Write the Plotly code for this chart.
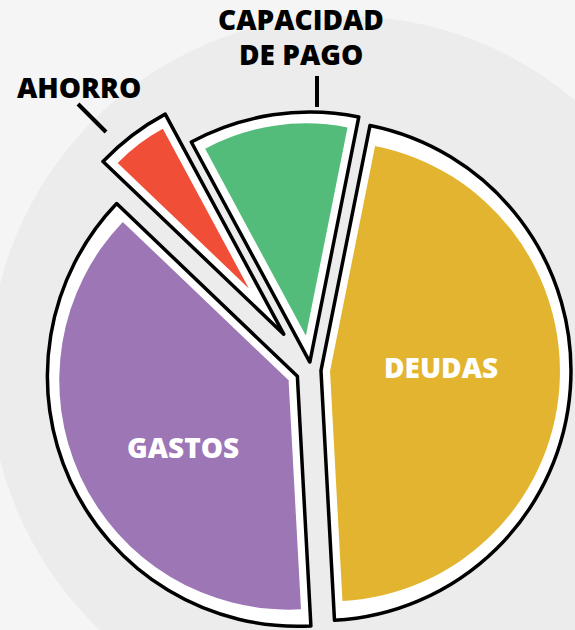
import math
import plotly.graph_objects as go

# ---- data ----
labels = ["DEUDAS", "GASTOS", "AHORRO", "CAPACIDAD DE PAGO"]
values = [46, 38, 5, 11]
label_text = ["DEUDAS", "GASTOS", "AHORRO", "CAPACIDAD<br>DE PAGO"]
colors = ["#e3b42f", "#9d77b5", "#f04e37", "#53bc7b"]

# ---- layout / style ----
W, H = 575, 630
ROT = 11.3                  # first slice start, degrees clockwise from 12 o'clock
CX, CY = 311, 370           # pie centre (px)
R = 250                     # slice radius (px)
EXPLODE = [10, 15, 45, 8]   # explode distance of each slice (px)
INSET_EDGE = 9
INSET_ARC = 11
FONT = "Open Sans"
FSIZE = 28
LINE_GAP = 35

total = sum(values)
fig = go.Figure()


def dom(cx, cy, r):
    clip = lambda v: min(1.0, max(0.0, v))
    return dict(x=[clip((cx - r) / W), clip((cx + r) / W)],
                y=[clip(1 - (cy + r) / H), clip(1 - (cy - r) / H)])


cum = 0
for i, v in enumerate(values):
    a0 = ROT + 360 * cum / total
    a1 = ROT + 360 * (cum + v) / total
    cum += v
    mid = math.radians((a0 + a1) / 2)
    half = math.radians((a1 - a0) / 2)
    ux, uy = math.sin(mid), -math.cos(mid)
    ax, ay = CX + EXPLODE[i] * ux, CY + EXPLODE[i] * uy

    clear = ["rgba(0,0,0,0)"] * len(values)
    fill = list(clear)
    fill[i] = "white"
    lw = [0] * len(values)
    lw[i] = 3.5
    # white slice with black outline
    fig.add_trace(go.Pie(
        values=values, labels=labels, sort=False, direction="clockwise",
        rotation=ROT, domain=dom(ax, ay, R),
        marker=dict(colors=fill, line=dict(color="black", width=lw)),
        textinfo="none", hoverinfo="skip", showlegend=False))

    # coloured fill, inset from the outline
    s = INSET_EDGE / math.sin(half)
    ri = R - INSET_ARC - s
    ix, iy = ax + s * ux, ay + s * uy
    col = list(clear)
    col[i] = colors[i]
    fig.add_trace(go.Pie(
        values=values, labels=labels, sort=False, direction="clockwise",
        rotation=ROT, domain=dom(ix, iy, ri),
        marker=dict(colors=col, line=dict(width=0)),
        textinfo="none", hoverinfo="skip", showlegend=False))

# label positions (px, centre of the first line) and colours
label_pos = [(441, 367), (183, 447), (79, 87), (301, 19)]
label_col = ["white", "white", "black", "black"]
annotations = []
for t, (px, py), c in zip(label_text, label_pos, label_col):
    for k, line in enumerate(t.split("<br>")):
        yy = py + k * LINE_GAP
        annotations.append(dict(
            text=line, x=px / W, y=1 - yy / H, xref="paper", yref="paper",
            xanchor="center", yanchor="middle", showarrow=False,
            font=dict(family=FONT, size=FSIZE, color=c, weight=800)))

shapes = [
    dict(type="circle", xref="paper", yref="paper", layer="below",
         x0=(345 - 356) / W, x1=(345 + 356) / W,
         y0=1 - (372 + 356) / H, y1=1 - (372 - 356) / H,
         fillcolor="#ececec", line=dict(width=0)),
    dict(type="line", xref="paper", yref="paper",
         x0=317 / W, x1=317 / W, y0=1 - 76 / H, y1=1 - 107 / H,
         line=dict(color="black", width=4)),
    dict(type="line", xref="paper", yref="paper",
         x0=78 / W, x1=106 / W, y0=1 - 104 / H, y1=1 - 132 / H,
         line=dict(color="black", width=4)),
]

fig.update_layout(
    width=W, height=H, autosize=False,
    margin=dict(l=0, r=0, t=0, b=0),
    paper_bgcolor="#f5f5f5", plot_bgcolor="#f5f5f5",
    annotations=annotations, shapes=shapes,
    showlegend=False,
)

fig.write_html(
    "out.html",
    config={"displayModeBar": False},
    post_script="document.body.style.margin='0';"
                "document.body.style.overflow='hidden';",
)
